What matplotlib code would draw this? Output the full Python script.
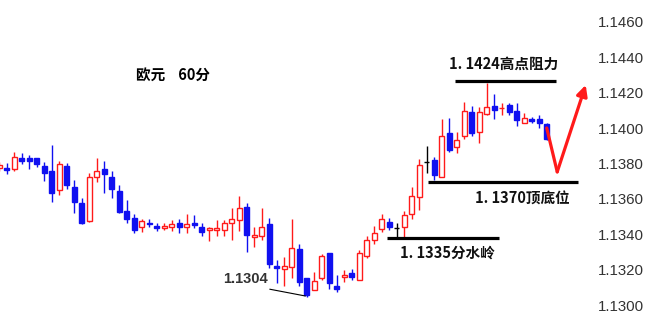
import numpy as np
import matplotlib
matplotlib.use('Agg')
import matplotlib.pyplot as plt

plt.rcParams['font.family'] = ['Noto Sans CJK SC', 'DejaVu Sans']

#%% data (EUR 60 min candles)
opens = [1.13775, 1.13777, 1.13768, 1.13832, 1.13830, 1.13830, 1.13786, 1.13760, 1.13651, 1.13786,
         1.13669, 1.13576, 1.13477, 1.13723, 1.13768, 1.13726, 1.13647, 1.13534, 1.13491, 1.13440,
         1.13466, 1.13447, 1.13438, 1.13440, 1.13466, 1.13440, 1.13466, 1.13440, 1.13425, 1.13425,
         1.13425, 1.13463, 1.13481, 1.13553, 1.13387, 1.13391, 1.13459, 1.13221, 1.13204, 1.13214,
         1.13316, 1.13152, 1.13086, 1.13152, 1.13293, 1.13108, 1.13161, 1.13180, 1.13142, 1.13278,
         1.13366, 1.13429, 1.13472, 1.13434, 1.13443, 1.13515, 1.13610, 1.13811, 1.13820, 1.13726,
         1.13971, 1.13892, 1.13956, 1.14093, 1.13980, 1.14080, 1.14125, 1.14112, 1.14131, 1.14099,
         1.14031, 1.14050, 1.14050, 1.14024]
closes = [1.13792, 1.13762, 1.13839, 1.13816, 1.13816, 1.13796, 1.13749, 1.13636, 1.13796, 1.13679,
          1.13585, 1.13466, 1.13726, 1.13758, 1.13741, 1.13655, 1.13528, 1.13485, 1.13425, 1.13477,
          1.13459, 1.13434, 1.13447, 1.13459, 1.13440, 1.13459, 1.13453, 1.13415, 1.13434, 1.13434,
          1.13463, 1.13485, 1.13547, 1.13397, 1.13397, 1.13440, 1.13233, 1.13212, 1.13221, 1.13321,
          1.13133, 1.13058, 1.13138, 1.13278, 1.13127, 1.13090, 1.13171, 1.13161, 1.13297, 1.13368,
          1.13410, 1.13485, 1.13443, 1.13434, 1.13510, 1.13617, 1.13792, 1.13811, 1.13736, 1.13956,
          1.13877, 1.13933, 1.14099, 1.13975, 1.14093, 1.14118, 1.14103, 1.14116, 1.14093, 1.14046,
          1.14056, 1.14041, 1.14031, 1.13937]
highs = [1.13809, 1.13805, 1.13867, 1.13858, 1.13849, 1.13833, 1.13811, 1.13905, 1.13816, 1.13802,
         1.13707, 1.13604, 1.13745, 1.13830, 1.13816, 1.13760, 1.13679, 1.13594, 1.13515, 1.13485,
         1.13485, 1.13463, 1.13463, 1.13481, 1.13485, 1.13515, 1.13510, 1.13463, 1.13443, 1.13481,
         1.13481, 1.13547, 1.13617, 1.13576, 1.13440, 1.13547, 1.13491, 1.13255, 1.13271, 1.13485,
         1.13346, 1.13152, 1.13189, 1.13289, 1.13297, 1.13171, 1.13199, 1.13203, 1.13312, 1.13391,
         1.13447, 1.13515, 1.13491, 1.13463, 1.13534, 1.13669, 1.13824, 1.13899, 1.13839, 1.14050,
         1.14056, 1.13980, 1.14150, 1.14125, 1.14121, 1.14257, 1.14193, 1.14144, 1.14144, 1.14144,
         1.14088, 1.14065, 1.14075, 1.14031]
lows = [1.13758, 1.13740, 1.13760, 1.13796, 1.13768, 1.13782, 1.13703, 1.13585, 1.13623, 1.13655,
        1.13519, 1.13457, 1.13472, 1.13698, 1.13636, 1.13604, 1.13519, 1.13466, 1.13408, 1.13415,
        1.13443, 1.13419, 1.13425, 1.13421, 1.13410, 1.13410, 1.13434, 1.13391, 1.13364, 1.13391,
        1.13391, 1.13368, 1.13421, 1.13302, 1.13327, 1.13368, 1.13208, 1.13124, 1.13108, 1.13152,
        1.13108, 1.13048, 1.13086, 1.13142, 1.13090, 1.13076, 1.13133, 1.13142, 1.13142, 1.13265,
        1.13346, 1.13411, 1.13425, 1.13387, 1.13387, 1.13485, 1.13538, 1.13745, 1.13707, 1.13723,
        1.13867, 1.13862, 1.13937, 1.13956, 1.13915, 1.14075, 1.14050, 1.14075, 1.14075, 1.14012,
        1.14031, 1.14031, 1.13999, 1.13933]

yticks = [1.1300, 1.1320, 1.1340, 1.1360, 1.1380, 1.1400, 1.1420, 1.1440, 1.1460]
ytick_labels = ['%.4f' % v for v in yticks]

levels = [1.14267, 1.13694, 1.13378]
level_labels = ['1. 1424高点阻力', '1. 1370顶底位', '1. 1335分水岭']
arrow_x = [73.0, 74.4, 78.2]
arrow_y = [1.14001, 1.13753, 1.14244]

RED = '#ff1a1a'
BLUE = '#1010f0'

#%% plot
fig = plt.figure(figsize=(6.49, 3.25), dpi=100)
ax = fig.add_axes([0, 0, 590/649, 1])

o = np.array(opens); c = np.array(closes)
h = np.array(highs); l = np.array(lows)
x = np.arange(len(o))
w = 0.64

for i in range(len(x)):
    if c[i] > o[i]:
        col, fc = RED, 'white'
    elif c[i] < o[i]:
        col, fc = BLUE, BLUE
    else:
        col, fc = 'black', 'black'
    ax.vlines(x[i], l[i], h[i], color=col, lw=1.0, zorder=1)
    bot = min(o[i], c[i])
    ht = max(abs(c[i]-o[i]), 0.000005)
    ax.bar(x[i], ht, w, bottom=bot, facecolor=fc, edgecolor=col, lw=1.0, zorder=2)

# support / resistance lines
spans = [(60.8, 74.2), (57.2, 77.2), (51.7, 66.6)]
text_pos = [(67.2, 1.14363), (69.8, 1.13600), (59.8, 1.13295)]
for lev, (a, b), lab, (tx, ty) in zip(levels, spans, level_labels, text_pos):
    ax.plot([a, b], [lev, lev], color='black', lw=2.3, solid_capstyle='butt', zorder=3)
    ax.text(tx, ty, lab, ha='center', va='center', fontsize=10.5,
            fontweight='bold', color='#111111')

ax.text(23.2, 1.14301, '欧元    60分', ha='center', va='center', fontsize=10.5,
        fontweight='bold', color='black')

ax.text(32.8, 1.13148, '1.1304', ha='center', va='center', fontsize=10.5,
        fontweight='bold', color='#333333', family=['Liberation Sans', 'DejaVu Sans'])
ax.plot([36.1, 40.8], [1.13090, 1.13052], color='black', lw=0.8)

# red arrow
ax.plot(arrow_x[:2], arrow_y[:2], color=RED, lw=2.3, solid_capstyle='round', zorder=4)
ax.annotate('', xy=(arrow_x[2], arrow_y[2]), xytext=(arrow_x[1], arrow_y[1]),
            arrowprops=dict(arrowstyle='-|>', color=RED, lw=2.3, mutation_scale=16,
                            shrinkA=0, shrinkB=0), annotation_clip=False, zorder=4)

ax.set_xlim(0.107, 78.77)
ax.set_ylim(1.12888, 1.14724)
ax.set_xticks([])
ax.set_yticks(yticks)
ax.set_yticklabels(ytick_labels)
ax.yaxis.tick_right()
ax.tick_params(axis='y', length=0, pad=6, labelsize=10.8, labelcolor='#333333')
for lbl in ax.get_yticklabels():
    lbl.set_fontfamily(['Liberation Sans', 'DejaVu Sans'])
for s in ax.spines.values():
    s.set_visible(False)

fig.savefig('out.png', dpi=100)
